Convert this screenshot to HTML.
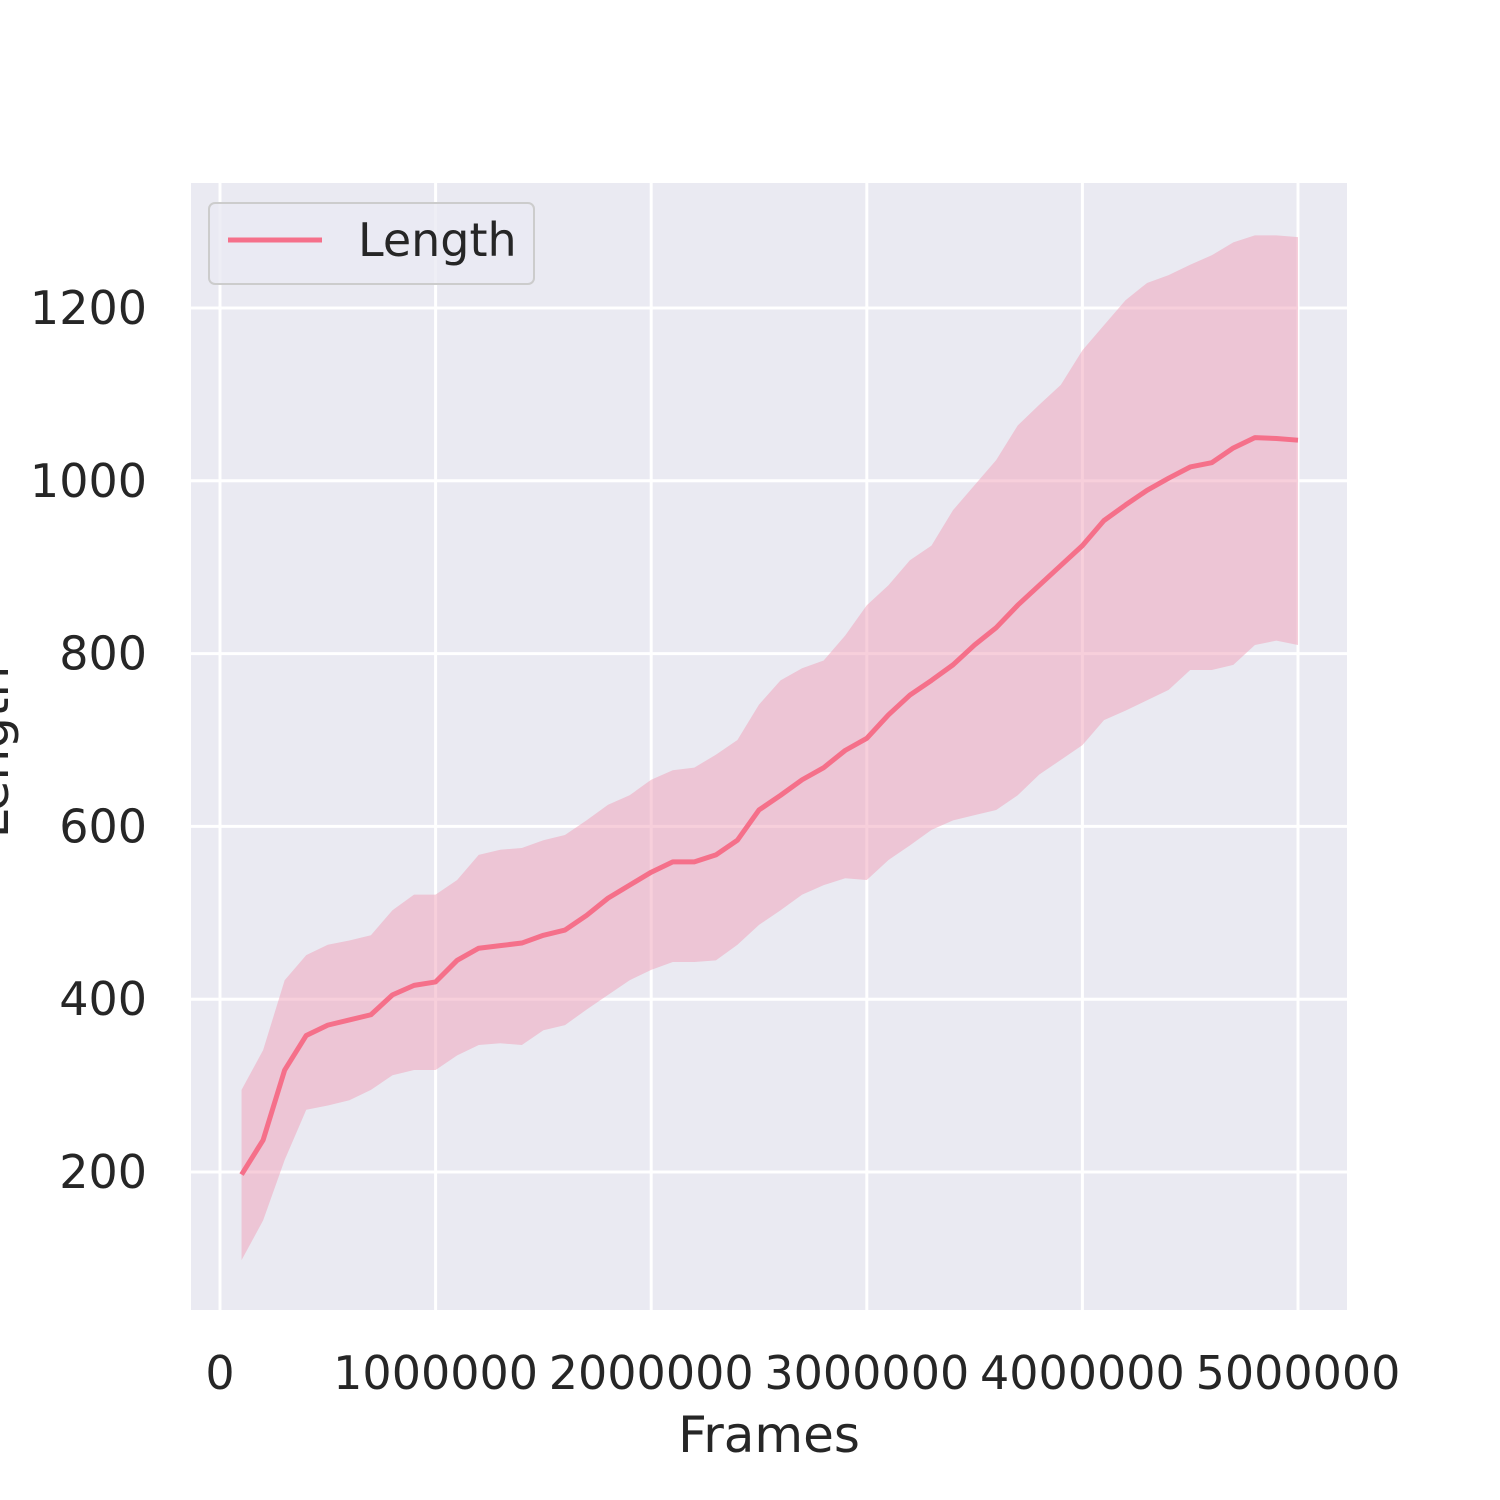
<!DOCTYPE html>
<html><head><meta charset="utf-8"><style>
html,body{margin:0;padding:0;background:#fff;}
svg{display:block;font-family:"DejaVu Sans","Liberation Sans",sans-serif;}
</style></head><body>
<svg width="1500" height="1500" viewBox="0 0 1500 1500" xmlns="http://www.w3.org/2000/svg">
<rect x="191" y="183" width="1156" height="1127" fill="#eaeaf2"/>
<g id="grid"></g>
<path id="band" fill="#f0a0b8" fill-opacity="0.5"/>
<path id="line" fill="none" stroke="#f5708a" stroke-width="5" stroke-linejoin="round"/>
<g id="ticks" font-size="46" fill="#262626"></g>
<text x="769" y="1452" font-size="50" fill="#262626" text-anchor="middle">Frames</text>
<text transform="translate(8,752) rotate(-90)" font-size="50" fill="#262626" text-anchor="middle">Length</text>
<g>
<rect x="209" y="203" width="325" height="81" rx="6" fill="#eaeaf2" fill-opacity="0.8" stroke="#cccccc" stroke-width="2"/>
<line x1="228" y1="240" x2="322" y2="240" stroke="#f5708a" stroke-width="5"/>
<text x="358" y="256" font-size="46" fill="#262626">Length</text>
</g>
</svg>
<script>
const frames=[1,2,3,4,5,6,7,8,9,10,11,12,13,14,15,16,17,18,19,20,21,22,23,24,25,26,27,28,29,30,31,32,33,34,35,36,37,38,39,40,41,42,43,44,45,46,47,48,49,50];
const meanVals=[197,237,318,358,370,376,382,405,416,420,445,459,462,465,474,480,497,517,532,547,559,559,567,584,619,636,654,668,688,702,729,752,769,787,810,830,856,879,902,925,954,972,989,1003,1016,1021,1038,1050,1049,1047];
const upperVals=[295,341,422,451,463,468,474,503,521,521,538,567,573,575,584,590,607,625,636,654,665,668,683,700,741,769,783,792,821,856,879,908,925,966,995,1024,1064,1088,1111,1151,1180,1209,1229,1238,1250,1261,1276,1284,1284,1282];
const lowerVals=[98,144,214,272,277,283,295,312,318,318,335,347,349,347,364,370,388,405,422,434,443,443,445,463,486,503,521,532,540,538,561,578,596,607,613,619,636,660,677,694,723,734,746,758,781,781,787,810,815,810];
const xTicks=[0,1000000,2000000,3000000,4000000,5000000];
const yTicks=[200,400,600,800,1000,1200];
const X=v=>220+v/1000000*215.6;
const Y=v=>1344.8-v*0.864;
const fx=i=>X(frames[i]*100000);
const ns="http://www.w3.org/2000/svg";
const grid=document.getElementById('grid'),ticks=document.getElementById('ticks');
xTicks.forEach(t=>{const l=document.createElementNS(ns,'line');


l.setAttribute('x1',X(t));l.setAttribute('x2',X(t));l.setAttribute('y1',183);l.setAttribute('y2',1310);l.setAttribute('stroke','#fff');l.setAttribute('stroke-width','3');grid.appendChild(l);
const s=document.createElementNS(ns,'text');


s.setAttribute('x',X(t));s.setAttribute('y',1389);s.setAttribute('text-anchor','middle');s.textContent=String(t);ticks.appendChild(s);});
yTicks.forEach(t=>{const l=document.createElementNS(ns,'line');


l.setAttribute('x1',191);l.setAttribute('x2',1347);l.setAttribute('y1',Y(t));l.setAttribute('y2',Y(t));l.setAttribute('stroke','#fff');l.setAttribute('stroke-width','3');grid.appendChild(l);
const s=document.createElementNS(ns,'text');


s.setAttribute('x',147);s.setAttribute('y',Y(t)+16);s.setAttribute('text-anchor','end');s.textContent=String(t);ticks.appendChild(s);});
let d='';frames.forEach((f,i)=>{d+=(i?'L':'M')+fx(i)+','+Y(upperVals[i]);});
for(let i=frames.length-1;i>=0;i--)d+='L'+fx(i)+','+Y(lowerVals[i]);
document.getElementById('band').setAttribute('d',d+'Z');
let m='';frames.forEach((f,i)=>{m+=(i?'L':'M')+fx(i)+','+Y(meanVals[i]);});
document.getElementById('line').setAttribute('d',m);
</script>
</body></html>
